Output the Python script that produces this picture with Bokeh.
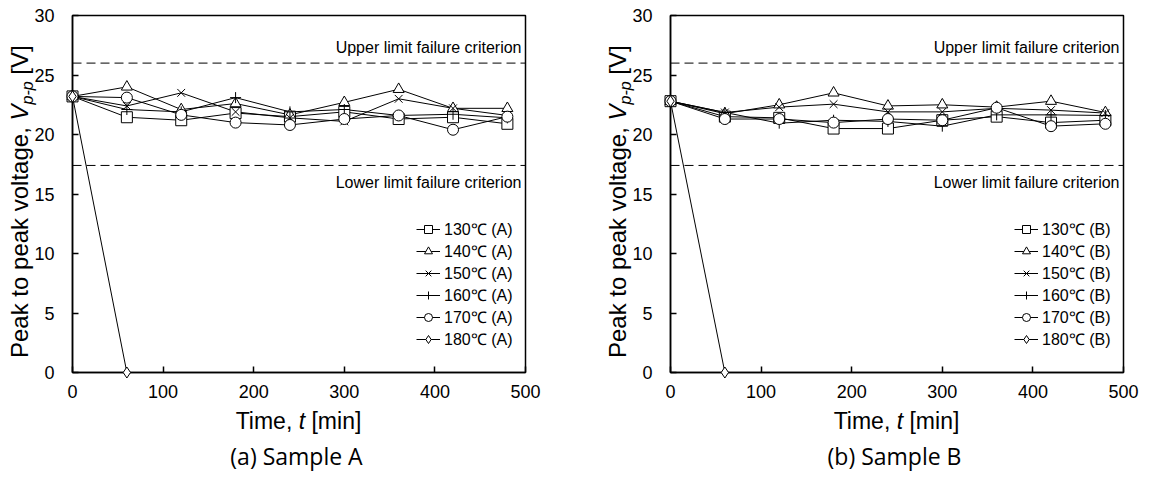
from bokeh.plotting import figure
from bokeh.layouts import row, column
from bokeh.models import Range1d, Label, Span, Legend, LegendItem, SingleIntervalTicker, Div
from bokeh.embed import file_html
from bokeh.resources import INLINE

# ---------------- data ----------------
time_min = [0, 60, 120, 180, 240, 300, 360, 420, 480]
time_180 = [0, 60]

a130 = [23.2, 21.45, 21.2, 21.8, 21.5, 21.9, 21.3, 21.45, 20.9]
a140 = [23.2, 24.0, 22.1, 22.6, 21.65, 22.7, 23.8, 22.2, 22.2]
a150 = [23.2, 22.4, 23.5, 21.9, 21.4, 21.1, 23.0, 22.2, 21.6]
a160 = [23.2, 22.1, 21.9, 23.1, 21.9, 22.1, 21.6, 21.7, 21.4]
a170 = [23.2, 23.1, 21.65, 21.0, 20.8, 21.3, 21.6, 20.4, 21.5]
a180 = [23.2, 0.0]

b130 = [22.8, 21.5, 21.4, 20.5, 20.5, 21.2, 21.5, 21.0, 21.2]
b140 = [22.8, 21.75, 22.5, 23.5, 22.4, 22.5, 22.3, 22.8, 21.85]
b150 = [22.8, 21.85, 22.3, 22.55, 21.9, 21.9, 22.2, 22.05, 21.8]
b160 = [22.8, 21.85, 20.95, 21.2, 21.1, 20.7, 21.65, 21.65, 21.6]
b170 = [22.8, 21.3, 21.3, 21.0, 21.3, 21.2, 22.25, 20.7, 20.9]
b180 = [22.8, 0.0]

temps = ["130\u2103", "140\u2103", "150\u2103", "160\u2103", "170\u2103", "180\u2103"]
markers = ["square", "triangle", "x", "cross", "circle", "diamond"]

upper_limit = 26.0
lower_limit = 17.4

FONT = "Liberation Sans"

FRAME_W, FRAME_H = 453, 357
TOP, BOTTOM_BORDER = 15, 28
FIG_H = TOP + FRAME_H + BOTTOM_BORDER   # 400
YDIV_W = 26
BORDER_L = 72 - YDIV_W                  # frame starts 72 px into each unit
CAP_H = 78


def dx(px_from_frame_left):
    return px_from_frame_left * 500.0 / FRAME_W


def dy(px_from_frame_top):
    return (FRAME_H - px_from_frame_top) * 30.0 / FRAME_H


def make_plot(series_list, tag, border_right):
    p = figure(width=BORDER_L + FRAME_W + border_right, height=FIG_H,
               x_range=Range1d(0, 500), y_range=Range1d(0, 30),
               output_backend="svg", toolbar_location=None,
               min_border_left=BORDER_L, min_border_right=border_right,
               min_border_top=TOP, min_border_bottom=BOTTOM_BORDER)
    p.grid.visible = False
    p.outline_line_color = "black"
    p.outline_line_width = 1.5
    p.outline_line_alpha = 1.0
    p.background_fill_color = "white"
    p.border_fill_alpha = 0

    p.xaxis.ticker = SingleIntervalTicker(interval=100)
    p.yaxis.ticker = SingleIntervalTicker(interval=5)
    for ax in (p.xaxis, p.yaxis):
        ax.axis_line_width = 1.5
        ax.axis_line_color = "black"
        ax.major_tick_in = 6
        ax.major_tick_out = 0
        ax.major_tick_line_width = 1.5
        ax.major_tick_line_color = "black"
        ax.minor_tick_line_color = None
        ax.major_label_text_font = FONT
        ax.major_label_text_font_size = "18px"
        ax.major_label_text_color = "black"
    p.xaxis.major_label_standoff = 8
    p.yaxis.major_label_standoff = 14

    for lim in (upper_limit, lower_limit):
        p.add_layout(Span(location=lim, dimension="width", line_color="black",
                          line_width=1, line_dash="9 5"))

    p.add_layout(Label(x=dx(449), y=dy(32), text="Upper limit failure criterion",
                       text_font=FONT, text_font_size="16px", text_align="right",
                       text_baseline="middle", text_color="black"))
    p.add_layout(Label(x=dx(449), y=dy(167), text="Lower limit failure criterion",
                       text_font=FONT, text_font_size="16px", text_align="right",
                       text_baseline="middle", text_color="black"))

    items = []
    for (xs, ys), name, mk in zip(series_list, temps, markers):
        lr = p.line(xs, ys, line_color="black", line_width=1)
        sr = p.scatter(xs, ys, marker=mk, size=11, line_color="black", line_width=1,
                       fill_color="white", level="overlay")
        items.append(LegendItem(label=f"{name} ({tag})", renderers=[lr, sr]))

    leg = Legend(items=items, location=(344, 22), glyph_width=24, glyph_height=20,
                 spacing=0, label_standoff=4, padding=0, margin=0,
                 border_line_color=None, background_fill_alpha=0,
                 label_text_font=FONT, label_text_font_size="16px",
                 label_text_color="black", label_height=20)
    p.add_layout(leg)
    return p


def y_title_div():
    html = (
        f'<div style="position:relative;width:{YDIV_W}px;height:{FIG_H}px;overflow:visible;">'
        '<div style="position:absolute;left:8px;top:358px;transform:rotate(-90deg);'
        'transform-origin:0 0;white-space:nowrap;font-family:\'Liberation Sans\';'
        'font-size:24px;line-height:24px;color:#000;z-index:5;">'
        'Peak to peak voltage, <i>V</i><sub style="font-size:16px;vertical-align:-5px;'
        'line-height:0;"><i>p-p</i></sub> [V]</div></div>'
    )
    return Div(text=html, width=YDIV_W, height=FIG_H, margin=0,
               styles={"overflow": "visible", "z-index": "5"})


def caption_div(width, subtitle):
    html = (
        f'<div style="position:relative;width:{width}px;height:{CAP_H}px;">'
        f'<div style="position:absolute;left:72px;width:{FRAME_W}px;top:10px;text-align:center;'
        'white-space:nowrap;font-family:\'Liberation Sans\';font-size:23px;line-height:23px;'
        'color:#000;">Time, <i>t</i> [min]</div>'
        f'<div style="position:absolute;left:70px;width:{FRAME_W}px;top:45px;text-align:center;'
        'white-space:nowrap;font-family:\'Open Sans\';font-size:23px;line-height:23px;'
        f'color:#000;">{subtitle}</div></div>'
    )
    return Div(text=html, width=width, height=CAP_H, margin=0)


series_a = [(time_min, a130), (time_min, a140), (time_min, a150), (time_min, a160),
            (time_min, a170), (time_180, a180)]
series_b = [(time_min, b130), (time_min, b140), (time_min, b150), (time_min, b160),
            (time_min, b170), (time_180, b180)]

LEFT_W, RIGHT_W = 598, 550
pA = make_plot(series_a, "A", LEFT_W - YDIV_W - BORDER_L - FRAME_W)
pB = make_plot(series_b, "B", RIGHT_W - YDIV_W - BORDER_L - FRAME_W)

unitA = column(row(y_title_div(), pA, spacing=0), caption_div(LEFT_W, "(a) Sample A"), spacing=0)
unitB = column(row(y_title_div(), pB, spacing=0), caption_div(RIGHT_W, "(b) Sample B"), spacing=0)
layout = row(unitA, unitB, spacing=0)

open("out.html", "w").write(file_html(layout, INLINE))
